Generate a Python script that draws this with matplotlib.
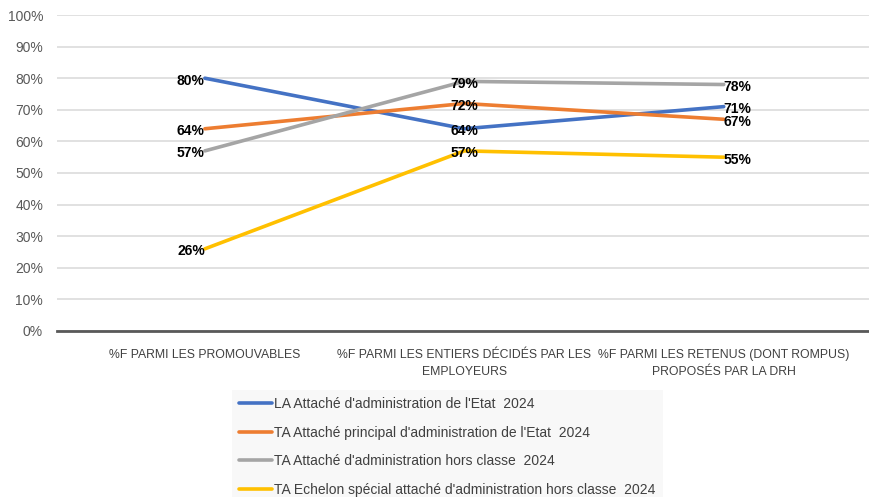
import matplotlib.pyplot as plt
from matplotlib.ticker import PercentFormatter

categories = [
    "%F PARMI LES PROMOUVABLES",
    "%F PARMI LES ENTIERS DÉCIDÉS PAR LES\nEMPLOYEURS",
    "%F PARMI LES RETENUS (DONT ROMPUS)\nPROPOSÉS PAR LA DRH",
]
series_names = [
    "LA Attaché d'administration de l'Etat  2024",
    "TA Attaché principal d'administration de l'Etat  2024",
    "TA Attaché d'administration hors classe  2024",
    "TA Echelon spécial attaché d'administration hors classe  2024",
]
values_la = [80, 64, 71]
values_ta_principal = [64, 72, 67]
values_ta_hors_classe = [57, 79, 78]
values_ta_echelon = [26, 57, 55]
colors = ["#4472C4", "#ED7D31", "#A5A5A5", "#FFC000"]

plt.rcParams["font.family"] = ["Liberation Sans", "DejaVu Sans"]

fig = plt.figure(figsize=(8.69, 4.97), dpi=100)
ax = fig.add_axes([57 / 869, 166 / 497, 812 / 869, 316 / 497])

x = list(range(len(categories)))
all_values = [values_la, values_ta_principal, values_ta_hors_classe, values_ta_echelon]
lines = []
for vals, name, col in zip(all_values, series_names, colors):
    (ln,) = ax.plot(x, vals, color=col, lw=2.6, label=name, solid_capstyle="round", zorder=3)
    lines.append(ln)

# data labels: left of point for first column, centred for middle, right for last
aligns = ["right", "center", "left"]
for vals in all_values:
    for i, v in enumerate(vals):
        ax.text(i, v - 0.8, f"{v}%", ha=aligns[i], va="center", fontsize=10,
                fontweight="bold", color="black", zorder=4)

ax.set_xlim(-0.57, 2.56)
ax.set_ylim(0, 100)
ax.set_yticks(range(0, 101, 10))
ax.yaxis.set_major_formatter(PercentFormatter(decimals=0))
ax.set_xticks(x)
ax.set_xticklabels(categories, fontsize=8.8, color="#404040", linespacing=1.55)
ax.tick_params(axis="y", labelsize=10, colors="#595959", length=0, pad=10)
ax.tick_params(axis="x", length=0, pad=13)
ax.grid(axis="y", color="#d9d9d9", lw=1.1)
ax.set_axisbelow(True)
for side in ["top", "right", "left"]:
    ax.spines[side].set_visible(False)
ax.spines["bottom"].set_color("#595959")
ax.spines["bottom"].set_linewidth(2)
ax.spines["bottom"].set_zorder(2)

leg = fig.legend(handles=lines, loc="upper left", bbox_to_anchor=(232 / 869, 1 - 390 / 497),
                 frameon=True, fancybox=False, facecolor="#f7f7f7", edgecolor="none",
                 fontsize=10, handlelength=2.4, handletextpad=0.15, labelspacing=1.05,
                 borderpad=0.5, borderaxespad=0)
for t in leg.get_texts():
    t.set_color("#404040")

fig.savefig("out.png", dpi=100)
